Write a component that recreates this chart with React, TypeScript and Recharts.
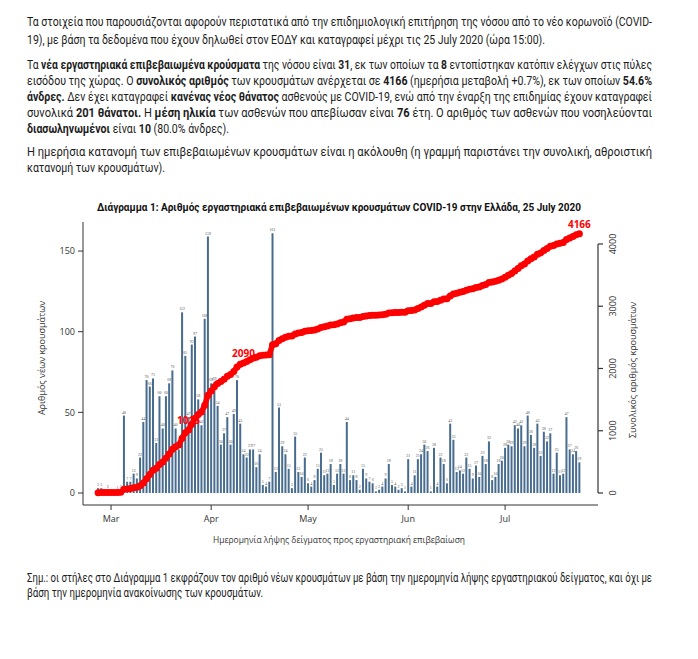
import React from 'react';
import { ComposedChart, Bar, Line, XAxis, YAxis, LabelList } from 'recharts';

// daily lab-confirmed cases by sampling date, 26 Feb - 24 Jul 2020
const FEB = [3, 3, 0, 2];
const MAR = [0, 0, 1, 2, 48, 7, 7, 12, 9, 22, 44, 70, 66, 71, 31, 60, 40, 60, 68, 76, 40, 27, 112, 85, 47, 92, 97, 58, 42, 108, 159];
const APR = [68, 69, 54, 30, 37, 47, 30, 49, 70, 43, 24, 22, 27, 27, 16, 24, 5, 4, 7, 161, 13, 53, 29, 24, 15, 3, 35, 13, 10, 22];
const MAY = [6, 4, 8, 15, 25, 11, 12, 18, 5, 12, 18, 12, 44, 8, 11, 8, 2, 15, 9, 7, 6, 1, 2, 4, 9, 18, 5, 4, 2, 3, 1];
const JUN = [21, 4, 11, 21, 24, 30, 26, 1, 28, 4, 22, 18, 6, 43, 33, 13, 14, 12, 22, 15, 9, 17, 10, 23, 18, 32, 8, 10, 18, 20];
const JUL = [28, 30, 29, 42, 40, 42, 29, 48, 36, 28, 43, 23, 38, 32, 37, 12, 25, 11, 12, 47, 27, 24, 26, 19];

const MONTHS = [
  { month: '02', firstDay: 26, values: FEB },
  { month: '03', firstDay: 1, values: MAR },
  { month: '04', firstDay: 1, values: APR },
  { month: '05', firstDay: 1, values: MAY },
  { month: '06', firstDay: 1, values: JUN },
  { month: '07', firstDay: 1, values: JUL },
];

const TICK_DATES = ['2020-03-01', '2020-04-01', '2020-05-01', '2020-06-01', '2020-07-01'];
const TICK_LABELS = ['Mar', 'Apr', 'May', 'Jun', 'Jul'];
const LEFT_TICKS = [0, 50, 100, 150];
const RIGHT_TICKS = [0, 1000, 2000, 3000, 4000];
const LABELLED_DATES = ['2020-03-25', '2020-04-11', '2020-07-24'];

const data: { date: string; cases: number; total: number }[] = [];
let running = 0;
MONTHS.forEach(({ month, firstDay, values }) => {
  values.forEach((v, i) => {
    running += v;
    const d = String(firstDay + i).padStart(2, '0');
    data.push({ date: `2020-${month}-${d}`, cases: v, total: running });
  });
});
const labelIdx = LABELLED_DATES.map((d) => data.findIndex((r) => r.date === d));

const FONT = "Roboto, 'Noto Sans', sans-serif";
const CHART_FONT = "'Open Sans', 'Noto Sans', sans-serif";
const TEXT = '#1c1c1c';
const AXIS = '#333';
const BAR = '#476c8e';
const RED = '#ff0000';

const PLOT_TOP = 222;
const PLOT_BOTTOM = 505;
const L_DOMAIN = [-7.44, 168];
const R_DOMAIN = [-193, 4353];
const R_STEP = (1000 * (PLOT_BOTTOM - PLOT_TOP)) / (R_DOMAIN[1] - R_DOMAIN[0]);

const TEXT_X = 27;
const FULL_W = 625;

function RightTick(props: any) {
  const { x, y, payload } = props;
  const last = payload.value === RIGHT_TICKS[RIGHT_TICKS.length - 1];
  return (
    <g>
      <line x1={x} x2={x + 5} y1={y} y2={y} stroke={AXIS} strokeWidth={1.2} />
      {!last && <line x1={x} x2={x} y1={y} y2={y - R_STEP} stroke={AXIS} strokeWidth={1.2} />}
      <text
        transform={`translate(${x + 15},${y}) rotate(-90)`}
        textAnchor="middle"
        dy="0.35em"
        fontSize={9}
        fill={AXIS}
        fontFamily={CHART_FONT}
      >
        {payload.value}
      </text>
    </g>
  );
}

function CumLabel(props: any) {
  const { x, y, value, index } = props;
  if (!labelIdx.includes(index)) return null;
  return (
    <text x={x} y={y - 6} textAnchor="middle" fill={RED} fontSize={10} fontWeight="bold" fontFamily={CHART_FONT}>
      {value}
    </text>
  );
}

// one printed line of the page, stretched to the width it has in the scan
function TextLine({ y, w = FULL_W, children }: { y: number; w?: number; children: React.ReactNode }) {
  return (
    <text x={TEXT_X} y={y} textLength={w} lengthAdjust="spacingAndGlyphs">
      {children}
    </text>
  );
}

const B = ({ children }: { children: React.ReactNode }) => <tspan fontWeight="bold">{children}</tspan>;

export default function App() {
  return (
    <div style={{ position: 'absolute', left: 0, top: 0, width: 698, height: 659, background: '#fff' }}>
      <svg
        width={698}
        height={659}
        style={{ position: 'absolute', left: 0, top: 0 }}
        fontFamily={FONT}
        fontSize={12}
        fill={TEXT}
      >
        <TextLine y={26}>
          Τα στοιχεία που παρουσιάζονται αφορούν περιστατικά από την επιδημιολογική επιτήρηση της νόσου από το νέο κορωνοϊό (COVID-
        </TextLine>
        <TextLine y={44} w={518}>
          19), με βάση τα δεδομένα που έχουν δηλωθεί στον ΕΟΔΥ και καταγραφεί μέχρι τις 25 July 2020 (ώρα 15:00).
        </TextLine>

        <TextLine y={69}>
          Τα <B>νέα εργαστηριακά επιβεβαιωμένα κρούσματα</B> της νόσου είναι <B>31</B>, εκ των οποίων τα <B>8</B> εντοπίστηκαν κατόπιν ελέγχων στις πύλες
        </TextLine>
        <TextLine y={85}>
          εισόδου της χώρας. Ο <B>συνολικός αριθμός</B> των κρουσμάτων ανέρχεται σε <B>4166</B> (ημερήσια μεταβολή +0.7%), εκ των οποίων <B>54.6%</B>
        </TextLine>
        <TextLine y={101}>
          <B>άνδρες.</B> Δεν έχει καταγραφεί <B>κανένας νέος θάνατος</B> ασθενούς με COVID-19, ενώ από την έναρξη της επιδημίας έχουν καταγραφεί
        </TextLine>
        <TextLine y={117}>
          συνολικά <B>201 θάνατοι.</B>  Η <B>μέση ηλικία</B> των ασθενών που απεβίωσαν είναι <B>76</B> έτη.  Ο αριθμός των ασθενών που νοσηλεύονται
        </TextLine>
        <TextLine y={133} w={202}>
          <B>διασωληνωμένοι</B> είναι <B>10</B> (80.0% άνδρες).
        </TextLine>

        <TextLine y={156}>
          Η ημερήσια κατανομή των επιβεβαιωμένων κρουσμάτων είναι η ακόλουθη (η γραμμή παριστάνει την συνολική, αθροιστική
        </TextLine>
        <TextLine y={172} w={138}>
          κατανομή των κρουσμάτων).
        </TextLine>

        <text x={339} y={211} textAnchor="middle" fontWeight="bold" fontSize={11} fill="#111" textLength={484} lengthAdjust="spacingAndGlyphs">
          Διάγραμμα 1: Αριθμός εργαστηριακά επιβεβαιωμένων κρουσμάτων COVID-19 στην Ελλάδα, 25 July 2020
        </text>

        <text x={339} y={543} textAnchor="middle" fontSize={9} fill={AXIS} fontFamily={CHART_FONT} textLength={252} lengthAdjust="spacingAndGlyphs">
          Ημερομηνία λήψης δείγματος προς εργαστηριακή επιβεβαίωση
        </text>
        <text transform="translate(42,358) rotate(-90)" textAnchor="middle" dy="0.35em" fontSize={9} fill={AXIS} fontFamily={CHART_FONT}>
          Αριθμός νέων κρουσμάτων
        </text>
        <text transform="translate(633,370) rotate(-90)" textAnchor="middle" dy="0.35em" fontSize={9} fill={AXIS} fontFamily={CHART_FONT}>
          Συνολικός αριθμός κρουσμάτων
        </text>

        <TextLine y={582}>
          Σημ.: οι στήλες στο Διάγραμμα 1 εκφράζουν τον αριθμό νέων κρουσμάτων με βάση την ημερομηνία λήψης εργαστηριακού δείγματος, και όχι με
        </TextLine>
        <TextLine y={597} w={236}>
          βάση την ημερομηνία ανακοίνωσης των κρουσμάτων.
        </TextLine>
      </svg>

      <div style={{ position: 'absolute', left: 0, top: 0 }}>
        <ComposedChart
          width={698}
          height={560}
          data={data}
          margin={{ top: PLOT_TOP, right: 60, bottom: 560 - PLOT_BOTTOM - 30, left: 43 }}
          barCategoryGap={0.6}
        >
          <XAxis
            dataKey="date"
            ticks={TICK_DATES}
            interval={0}
            tickFormatter={(d: string) => TICK_LABELS[TICK_DATES.indexOf(d)]}
            padding={{ left: 13.5, right: 17 }}
            height={30}
            tickSize={5}
            tickMargin={6}
            stroke={AXIS}
            tick={{ fontSize: 9, fill: AXIS, fontFamily: CHART_FONT }}
          />
          <YAxis
            yAxisId="left"
            domain={L_DOMAIN}
            ticks={LEFT_TICKS}
            interval={0}
            width={40}
            tickSize={5}
            tickMargin={3}
            stroke={AXIS}
            tick={{ fontSize: 9, fill: AXIS, fontFamily: CHART_FONT }}
          />
          <YAxis
            yAxisId="right"
            orientation="right"
            domain={R_DOMAIN}
            ticks={RIGHT_TICKS}
            interval={0}
            width={40}
            tickSize={0}
            tickMargin={0}
            axisLine={false}
            tickLine={false}
            tick={<RightTick />}
          />
          <Bar yAxisId="left" dataKey="cases" fill={BAR} isAnimationActive={false}>
            <LabelList dataKey="cases" position="top" offset={2} fontSize={4} fill="#555" />
          </Bar>
          <Line
            yAxisId="right"
            dataKey="total"
            stroke="none"
            dot={false}
            activeDot={false}
            isAnimationActive={false}
          >
            <LabelList dataKey="total" content={<CumLabel />} />
          </Line>
          <Line
            yAxisId="right"
            dataKey="total"
            stroke={RED}
            strokeWidth={5.5}
            dot={{ r: 3.5, fill: RED, stroke: 'none' }}
            activeDot={false}
            isAnimationActive={false}
          />
        </ComposedChart>
      </div>
    </div>
  );
}
